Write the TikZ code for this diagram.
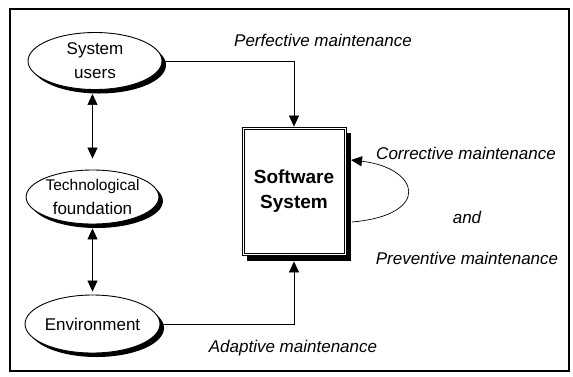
\documentclass[tikz,border=0pt]{standalone}
\usepackage{fontspec}
\newfontfamily\lab{Liberation Sans}
\usetikzlibrary{shapes.geometric,shadows,arrows.meta}
\begin{document}
\begin{tikzpicture}[x=1pt,y=-1pt,
  oval/.style={ellipse, draw, line width=0.9pt, fill=white, inner sep=0pt,
    align=center, font=\lab\fontsize{17}{24}\selectfont,
    drop shadow={shadow xshift=4pt, shadow yshift=-4pt, opacity=1, fill=black}},
  sysbox/.style={rectangle, draw, line width=0.8pt,
    fill=white, minimum width=104pt, minimum height=128pt, inner sep=0pt,
    align=center, font=\lab\bfseries\fontsize{19}{25}\selectfont,
    drop shadow={shadow xshift=5pt, shadow yshift=-6pt, opacity=1, fill=black}},
  lbl/.style={font=\lab\itshape\fontsize{17}{20}\selectfont, inner sep=0pt},
  conn/.style={line width=0.7pt, -{Triangle[length=11pt,width=10pt]}},
  dbl/.style={line width=0.7pt, {Triangle[length=11pt,width=10pt]}-{Triangle[length=11pt,width=10pt]}}
]
\useasboundingbox (0,0) rectangle (573,376);
\draw[line width=1.2pt] (10,9) rectangle (569,371);

\node[oval, minimum width=134pt, minimum height=57pt] (users) at (95,61) {System\\users};
\node[oval, minimum width=129pt, minimum height=54pt] (tech) at (92.5,197) {{\fontsize{15.5}{24}\selectfont Technological}\\foundation};
\node[oval, minimum width=129pt, minimum height=58pt] (env) at (92.5,324) {Environment};

\node[sysbox] (box) at (294,191) {Software\\System};
\draw[line width=0.7pt] ([shift={(2.5pt,-2.5pt)}]box.north west) rectangle ([shift={(-2.5pt,2.5pt)}]box.south east);

\node[lbl] (perf) at (323,40) {Perfective maintenance};
\node[lbl] (corr) at (466,153) {Corrective maintenance};
\node[lbl] (and) at (467,217) {and};
\node[lbl] (prev) at (467,258) {Preventive maintenance};
\node[lbl] (adap) at (293,348) {Adaptive maintenance};

\draw[dbl, shorten <=4pt, shorten >=11pt] (tech.north |- users.south) -- (tech.north);
\draw[dbl, shorten <=4pt, shorten >=3pt] (tech.south) -- (tech.south |- env.north);

\draw[conn] (users.east) -| (box.north);
\coordinate (bsb) at ([yshift=-6pt]box.south);
\draw[conn] (env.east) -| (bsb);

\coordinate (lb) at (352,222);
\coordinate (lt) at (351,160);
\draw[conn] (lb) .. controls (432,215) and (420,168) .. (lt);
\end{tikzpicture}
\end{document}
